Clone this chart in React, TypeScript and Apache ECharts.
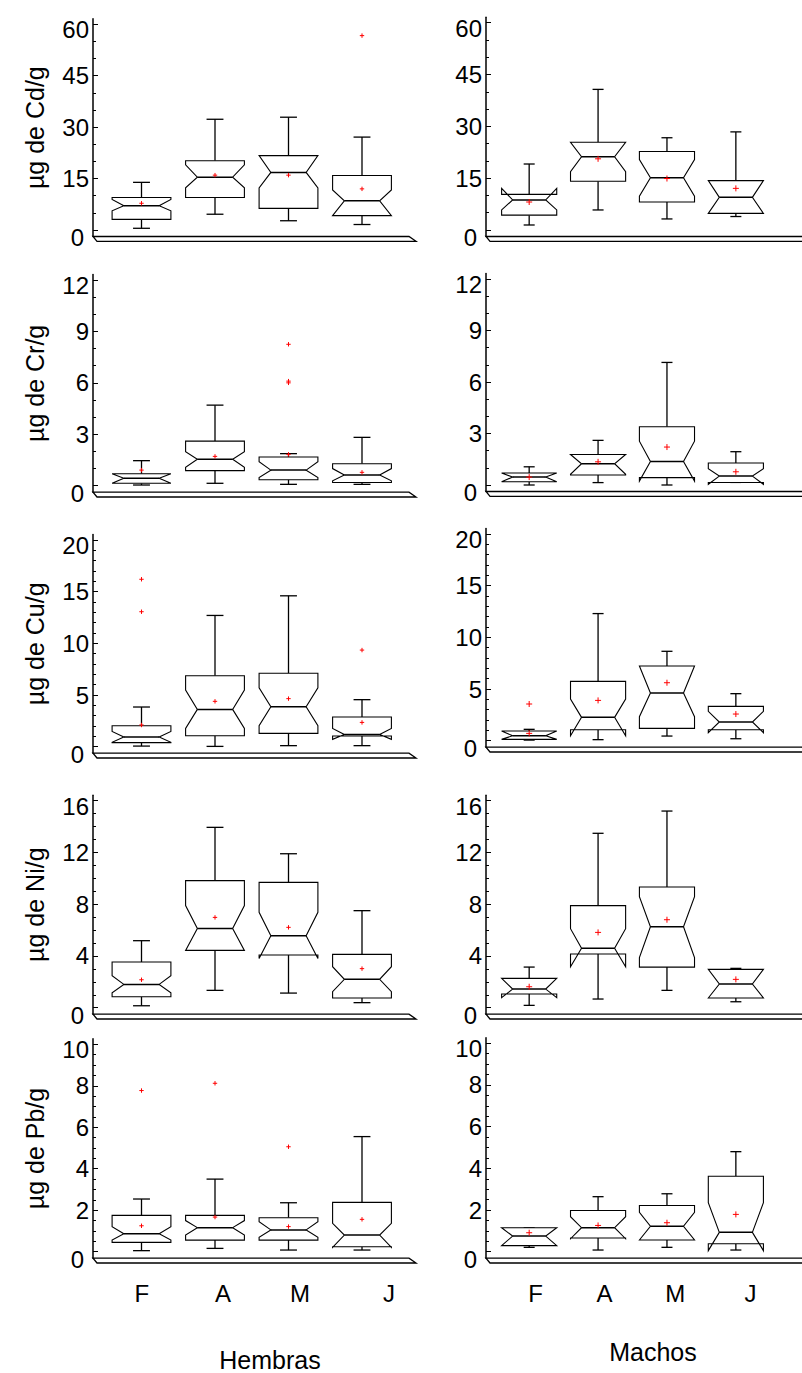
import React, { useEffect, useRef } from 'react';
import * as echarts from 'echarts';

const FONT = 'Liberation Sans, Arial, Helvetica, sans-serif';

const categories = ['F', 'A', 'M', 'J'];
const groupNames = ['Hembras', 'Machos'];
const metals = ['Cd', 'Cr', 'Cu', 'Ni', 'Pb'];
const yAxisNames = metals.map((m) => `µg de ${m}/g`);
const yTickLabels = [
  [0, 15, 30, 45, 60],
  [0, 3, 6, 9, 12],
  [0, 5, 10, 15, 20],
  [0, 4, 8, 12, 16],
  [0, 2, 4, 6, 8, 10],
];
const yMinorSteps = [5, 1, 1, 1, 0.5];

// each box: [whiskerLow, q1, notchLow, median, notchHigh, q3, whiskerHigh, mean]
const cdHembras = [
  [0.5, 3.1, 5.6, 7.1, 8.9, 9.5, 13.9, 7.8],
  [4.6, 9.5, 12.3, 15.4, 19.0, 20.2, 32.3, 16.0],
  [2.7, 6.3, 12.3, 16.8, 21.7, 21.7, 32.9, 16.0],
  [1.6, 4.2, 4.2, 8.5, 11.7, 15.9, 27.1, 12.0],
];
const cdMachos = [
  [1.45, 4.3, 5.8, 8.7, 12.05, 10.3, 19.1, 8.1],
  [5.8, 14.1, 16.9, 21.2, 25.4, 25.4, 40.7, 20.6],
  [3.2, 8.1, 9.8, 15.1, 20.4, 22.7, 26.7, 14.9],
  [3.9, 4.8, 4.8, 9.45, 14.3, 14.3, 28.4, 12.05],
];
const crHembras = [
  [0.04, 0.14, 0.14, 0.43, 0.7, 0.7, 1.46, 0.91],
  [0.14, 0.88, 1.07, 1.54, 1.98, 2.6, 4.7, 1.71],
  [0.08, 0.35, 0.47, 0.91, 1.4, 1.67, 1.87, 1.83],
  [0.08, 0.19, 0.29, 0.62, 1.0, 1.28, 2.82, 0.78],
];
const crMachos = [
  [0.0, 0.19, 0.19, 0.46, 0.7, 0.7, 1.06, 0.46],
  [0.14, 0.58, 0.62, 1.24, 1.78, 1.78, 2.6, 1.35],
  [0.0, 0.43, 0.23, 1.37, 2.55, 3.39, 7.14, 2.21],
  [0.15, 0.15, 0.04, 0.52, 0.95, 1.28, 1.94, 0.77],
];
const cuHembras = [
  [0.06, 0.39, 0.42, 0.94, 1.48, 2.03, 3.84, 2.1],
  [0.03, 1.06, 1.77, 3.61, 5.48, 6.87, 12.7, 4.39],
  [0.1, 1.29, 2.03, 3.87, 5.7, 7.1, 14.6, 4.65],
  [0.1, 1.03, 0.71, 1.19, 1.77, 2.87, 4.55, 2.35],
];
const cuMachos = [
  [0.06, 0.13, 0.13, 0.48, 0.94, 0.94, 1.1, 0.71],
  [0.1, 1.06, 0.48, 2.26, 4.03, 5.74, 12.3, 3.9],
  [0.45, 1.19, 2.32, 4.61, 7.23, 7.23, 8.65, 5.61],
  [0.19, 1.06, 0.77, 1.81, 2.84, 3.32, 4.55, 2.58],
];
const niHembras = [
  [0.15, 0.85, 1.16, 1.8, 2.47, 3.53, 5.18, 2.16],
  [1.34, 4.43, 4.43, 6.13, 7.89, 9.82, 13.94, 6.98],
  [1.13, 4.07, 3.81, 5.57, 7.37, 9.69, 11.9, 6.21],
  [0.39, 0.75, 1.24, 2.19, 3.17, 4.12, 7.5, 3.02],
];
const niMachos = [
  [0.18, 1.06, 0.77, 1.44, 2.27, 2.27, 3.14, 1.62],
  [0.67, 4.15, 3.17, 4.59, 6.11, 7.89, 13.48, 5.82],
  [1.34, 3.14, 3.87, 6.26, 8.58, 9.33, 15.2, 6.8],
  [0.46, 0.75, 0.75, 1.83, 2.96, 2.96, 3.04, 2.19],
];
const pbHembras = [
  [0.05, 0.45, 0.56, 0.87, 1.21, 1.75, 2.54, 1.25],
  [0.16, 0.56, 0.8, 1.16, 1.5, 1.75, 3.5, 1.67],
  [0.08, 0.56, 0.69, 1.05, 1.45, 1.64, 2.36, 1.21],
  [0.08, 0.24, 0.21, 0.8, 1.37, 2.38, 5.55, 1.56],
];
const pbMachos = [
  [0.21, 0.29, 0.29, 0.75, 1.15, 1.15, 1.15, 0.91],
  [0.08, 0.66, 0.62, 1.15, 1.68, 1.98, 2.64, 1.26],
  [0.21, 0.56, 0.56, 1.22, 1.89, 2.22, 2.78, 1.39],
  [0.08, 0.38, 0.05, 0.93, 2.35, 3.62, 4.8, 1.79],
];

// outliers: [categoryIndex, value]
const cdHembrasOut = [[3, 56.7]];
const cdMachosOut: number[][] = [];
const crHembrasOut = [[2, 8.25], [2, 6.1], [2, 6.0]];
const crMachosOut: number[][] = [];
const cuHembrasOut = [[0, 16.2], [0, 13.06], [3, 9.35]];
const cuMachosOut = [[0, 3.55]];
const niHembrasOut: number[][] = [];
const niMachosOut: number[][] = [];
const pbHembrasOut = [[0, 7.77], [1, 8.12], [2, 5.06]];
const pbMachosOut: number[][] = [];

const boxesByCol = [
  [cdHembras, crHembras, cuHembras, niHembras, pbHembras],
  [cdMachos, crMachos, cuMachos, niMachos, pbMachos],
];
const outByCol = [
  [cdHembrasOut, crHembrasOut, cuHembrasOut, niHembrasOut, pbHembrasOut],
  [cdMachosOut, crMachosOut, cuMachosOut, niMachosOut, pbMachosOut],
];

// layout
const COLS = [
  { axisX: 93, firstBox: 141.5, step: 73.5, width: 316, capHalf: 0.115, plus: 2.2, labelPos: [0.003, 1.109, 2.156, 3.367] },
  { axisX: 486, firstBox: 533, step: 75, width: 344, capHalf: 0.08, plus: 3, labelPos: [0.093, 1.093, 2.12, 3.213] },
];
const maxTickPx = [
  [24.3, 280, 540, 800.7, 1044.3],
  [22.7, 279, 534, 800.7, 1043.3],
];
const zeroPx = [
  [230, 485.7, 746.7, 1007.7, 1251.7],
  [230, 485, 740.7, 1007.7, 1251.7],
];
const TOP_PAD = 5.5;
const BOTTOM_PAD = 6.5;
const BOX_HALF = 0.4;
const NOTCH_INNER = 0.6;

function buildOption() {
  const grid: any[] = [];
  const xAxis: any[] = [];
  const yAxis: any[] = [];
  const series: any[] = [];

  for (let col = 0; col < 2; col++) {
    const L = COLS[col];
    for (let row = 0; row < 5; row++) {
      const idx = col * 5 + row;
      const ticks = yTickLabels[row];
      const topTick = ticks[ticks.length - 1];
      const mPx = maxTickPx[col][row];
      const zPx = zeroPx[col][row];
      const unit = (zPx - mPx) / topTick;
      const yMin = -BOTTOM_PAD / unit;
      const yMax = topTick + TOP_PAD / unit;
      const xMin = -(L.firstBox - L.axisX) / L.step;
      const xMax = xMin + L.width / L.step;
      const minors: number[] = [];
      const st = yMinorSteps[row];
      for (let k = 1; k * st < topTick + 1e-9; k++) {
        const v = Math.round(k * st * 1000) / 1000;
        if (!ticks.some((t) => Math.abs(t - v) < 1e-9)) minors.push(v);
      }

      grid.push({ left: L.axisX, top: mPx - TOP_PAD, width: L.width, height: zPx - mPx + TOP_PAD + BOTTOM_PAD });
      xAxis.push({
        type: 'value',
        gridIndex: idx,
        min: xMin,
        max: xMax,
        show: row === 4,
        axisLine: { show: false, onZero: false },
        axisTick: { show: false },
        splitLine: { show: false },
        axisLabel: {
          show: row === 4,
          customValues: L.labelPos,
          formatter: (v: number) => categories[Math.round(v)] ?? '',
          fontSize: 24,
          fontFamily: FONT,
          color: '#000',
          margin: 23,
        },
      });
      yAxis.push({
        type: 'value',
        gridIndex: idx,
        position: 'left',
        min: yMin,
        max: yMax,
        axisLine: { show: true, onZero: false, lineStyle: { color: '#000', width: 1.5 } },
        axisTick: { show: true, inside: true, length: 5, customValues: ticks, lineStyle: { color: '#000', width: 1 } },
        splitLine: { show: false },
        axisLabel: {
          customValues: ticks,
          fontSize: 24,
          fontFamily: FONT,
          color: '#000',
          margin: 4,
          formatter: (v: number) => {
            if (v === 0) return '{z|0}';
            if (v === topTick) return `{t|${v}}`;
            return String(v);
          },
          rich: {
            z: { fontSize: 24, fontFamily: FONT, color: '#000', padding: [15, 5, 0, 0] },
            t: { fontSize: 24, fontFamily: FONT, color: '#000', padding: [11, 0, 0, 0] },
          },
        },
        name: col === 0 ? yAxisNames[row] : '',
        nameLocation: 'middle',
        nameRotate: 90,
        nameGap: 46,
        nameTextStyle: { fontSize: 25, fontFamily: FONT, color: '#000' },
      });
      yAxis.push({
        type: 'value',
        gridIndex: idx,
        position: 'left',
        min: yMin,
        max: yMax,
        axisLine: { show: false, onZero: false },
        axisTick: { show: true, inside: true, length: 3, customValues: minors, lineStyle: { color: '#000', width: 1 } },
        axisLabel: { show: false },
        splitLine: { show: false },
      });

      // floor (3D base)
      series.push({
        type: 'custom',
        xAxisIndex: idx,
        yAxisIndex: idx * 2,
        silent: true,
        z: 1,
        data: [[0, 0]],
        renderItem: (params: any) => {
          const cs = params.coordSys;
          const x0 = cs.x;
          const y0 = cs.y + cs.height;
          const x1 = cs.x + cs.width;
          return {
            type: 'polygon',
            shape: { points: [[x0, y0], [x1, y0], [x1 + 7, y0 + 4.8], [x0 + 4, y0 + 4.8]] },
            style: { fill: '#fff', stroke: '#000', lineWidth: 1.3 },
          };
        },
      });

      // boxes
      const capHalf = L.capHalf;
      series.push({
        type: 'custom',
        xAxisIndex: idx,
        yAxisIndex: idx * 2,
        silent: true,
        z: 3,
        data: boxesByCol[col][row].map((b, i) => [i, ...b]),
        renderItem: (params: any, api: any) => {
          const i = api.value(0);
          const wLo = api.value(1);
          const q1 = api.value(2);
          const nLo = api.value(3);
          const med = api.value(4);
          const nHi = api.value(5);
          const q3 = api.value(6);
          const wHi = api.value(7);
          const w = BOX_HALF;
          const k = BOX_HALF * NOTCH_INNER;
          const P = (dx: number, v: number) => api.coord([i + dx, v]);
          const pts = [
            P(-w, q1), P(-w, nLo), P(-k, med), P(-w, nHi), P(-w, q3),
            P(w, q3), P(w, nHi), P(k, med), P(w, nLo), P(w, q1),
          ];
          const ln = (a: number[], b: number[], lw: number) => ({
            type: 'line',
            shape: { x1: a[0], y1: a[1], x2: b[0], y2: b[1] },
            style: { stroke: '#000', lineWidth: lw },
          });
          return {
            type: 'group',
            children: [
              ln(P(0, q3), P(0, wHi), 1.3),
              ln(P(-capHalf, wHi), P(capHalf, wHi), 1.3),
              ln(P(0, q1), P(0, wLo), 1.3),
              ln(P(-capHalf, wLo), P(capHalf, wLo), 1.3),
              { type: 'polygon', shape: { points: pts }, style: { fill: '#fff', stroke: '#000', lineWidth: 1.1 } },
              ln(P(-k, med), P(k, med), 1.5),
            ],
          };
        },
      });

      // means and outliers (red plus)
      const pts = [
        ...boxesByCol[col][row].map((b, i) => [i, b[7]]),
        ...outByCol[col][row],
      ];
      const s = L.plus;
      series.push({
        type: 'custom',
        xAxisIndex: idx,
        yAxisIndex: idx * 2,
        silent: true,
        z: 4,
        data: pts,
        renderItem: (params: any, api: any) => {
          const p = api.coord([api.value(0), api.value(1)]);
          return {
            type: 'group',
            children: [
              { type: 'line', shape: { x1: p[0] - s, y1: p[1], x2: p[0] + s, y2: p[1] }, style: { stroke: '#ff0000', lineWidth: 1 } },
              { type: 'line', shape: { x1: p[0], y1: p[1] - s, x2: p[0], y2: p[1] + s }, style: { stroke: '#ff0000', lineWidth: 1 } },
            ],
          };
        },
      });
    }
  }

  const graphic = [
    { type: 'text', x: 270, y: 1360, style: { text: groupNames[0], fontSize: 25, fontFamily: FONT, fill: '#000', align: 'center', verticalAlign: 'middle' } },
    { type: 'text', x: 653, y: 1352, style: { text: groupNames[1], fontSize: 25, fontFamily: FONT, fill: '#000', align: 'center', verticalAlign: 'middle' } },
  ];

  return {
    animation: false,
    backgroundColor: '#fff',
    grid,
    xAxis,
    yAxis,
    series,
    graphic,
  };
}

export default function App() {
  const ref = useRef<HTMLDivElement>(null);
  useEffect(() => {
    if (!ref.current) return;
    const chart = echarts.init(ref.current, undefined, { renderer: 'svg' });
    chart.setOption(buildOption() as any);
    return () => chart.dispose();
  }, []);
  return <div ref={ref} style={{ position: 'absolute', left: 0, top: 0, width: 802, height: 1373 }} />;
}
